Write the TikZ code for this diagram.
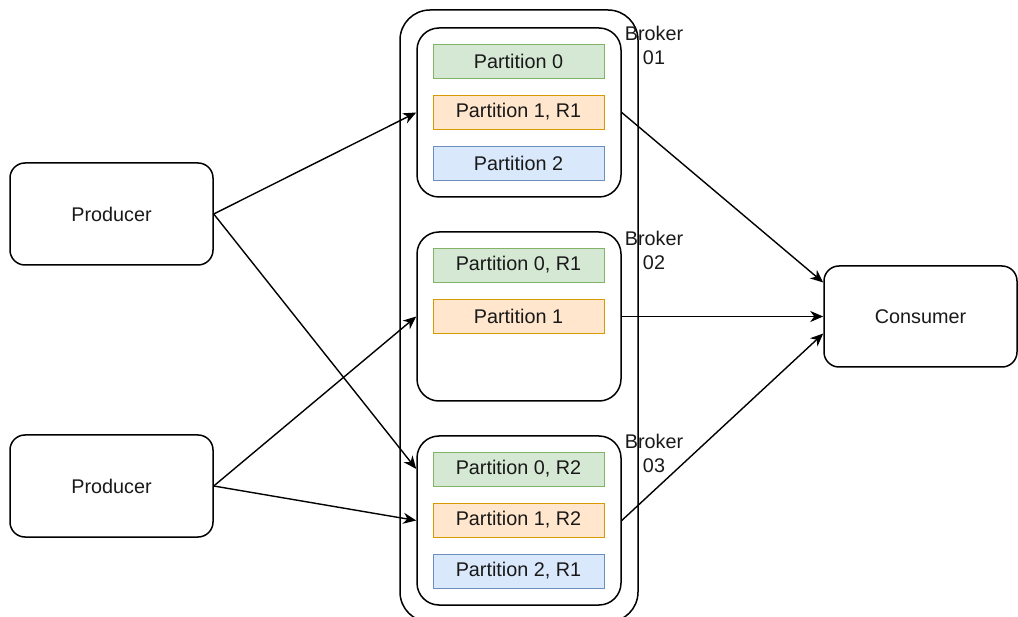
\documentclass[tikz,border=0pt]{standalone}
\usepackage{fontspec}
\setmainfont{Liberation Sans}
\usetikzlibrary{arrows.meta,calc}
\definecolor{gfill}{HTML}{D5E8D4}\definecolor{gdraw}{HTML}{82B366}
\definecolor{ofill}{HTML}{FFE6CC}\definecolor{odraw}{HTML}{D79B00}
\definecolor{bfill}{HTML}{DAE8FC}\definecolor{bdraw}{HTML}{6C8EBF}
\begin{document}
\begin{tikzpicture}[x=1pt,y=-1pt,
  every node/.style={font=\fontsize{19.8}{24}\selectfont, inner sep=0pt, text=black!90},
  actor/.style={draw, line width=1.5pt, rounded corners=15pt, minimum width=203pt, minimum height=102pt},
  outerbox/.style={draw, line width=1.5pt, rounded corners=30pt, minimum width=238pt, minimum height=612pt},
  brokerbox/.style={draw, line width=1.5pt, rounded corners=22pt, minimum width=204pt, minimum height=169pt},
  part/.style={draw, line width=0.9pt, minimum width=171pt, minimum height=34pt},
  pg/.style={part, fill=gfill, draw=gdraw},
  po/.style={part, fill=ofill, draw=odraw},
  pb/.style={part, fill=bfill, draw=bdraw},
  blabel/.style={align=center},
  conn/.style={line width=1.4pt, -{Stealth[length=13pt,width=11pt,inset=4pt]}}]
\clip (0,0) rectangle (1018,617);
\node[outerbox] (outer) at (519,316) {};
\node[brokerbox] (b1) at (519,112.5) {};
\node[brokerbox] (b2) at (519,316.5) {};
\node[brokerbox] (b3) at (519,520.5) {};
\node[pg] (p10) at (518.5,61) {Partition 0};
\node[po] (p11) at (518.5,112) {Partition 1, R1};
\node[pb] (p12) at (518.5,163) {Partition 2};
\node[pg] (p20) at (518.5,265) {Partition 0, R1};
\node[po] (p21) at (518.5,316) {Partition 1};
\node[pg] (p30) at (518.5,469) {Partition 0, R2};
\node[po] (p31) at (518.5,520) {Partition 1, R2};
\node[pb] (p32) at (518.5,571) {Partition 2, R1};
\node[blabel] (l1) at (654,45) {Broker\\01};
\node[blabel] (l2) at (654,250) {Broker\\02};
\node[blabel] (l3) at (654,453) {Broker\\03};
\node[actor] (prod1) at (111.5,214) {Producer};
\node[actor] (prod2) at (111.5,486) {Producer};
\node[actor, minimum width=193pt, minimum height=101pt] (cons) at (920.5,316.5) {Consumer};
\draw[conn] (prod1.east) -- (b1.west);
\draw[conn] (prod1.east) -- (b3.west |- p30);
\draw[conn] (prod2.east) -- (b2.west);
\draw[conn] (prod2.east) -- (b3.west);
\draw[conn] (b1.east) -- ($(cons.west)+(0,-34)$);
\draw[conn] (b2.east) -- (cons.west);
\draw[conn] (b3.east) -- ($(cons.west)+(0,17)$);
\end{tikzpicture}
\end{document}
